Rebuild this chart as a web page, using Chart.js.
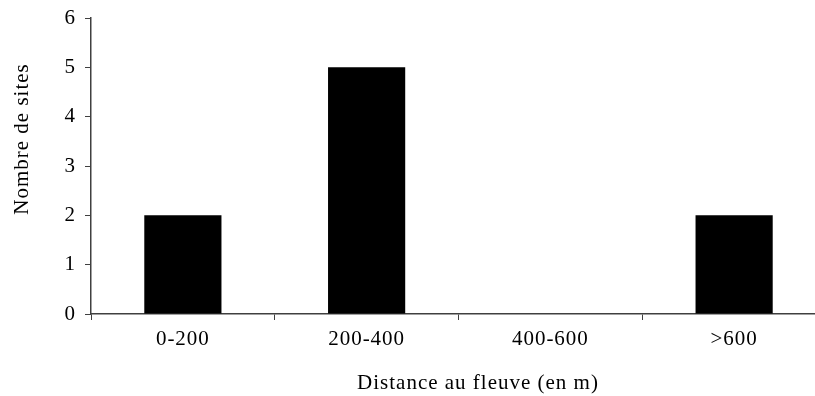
<!DOCTYPE html>
<html>
<head>
<meta charset="utf-8">
<script src="https://cdn.jsdelivr.net/npm/chart.js@4"></script>
<style>
  html, body { margin: 0; padding: 0; background: #fff; overflow: hidden; }
  #wrap { width: 815px; height: 396px; overflow: hidden; }
  #box { width: 840px; height: 396px; }
</style>
</head>
<body>
<div id="wrap"><div id="box"><canvas id="chart"></canvas></div></div>
<script>
const categories = ['0-200', '200-400', '400-600', '>600'];
const siteCounts = [2, 5, 0, 2];
const yTicks = [0, 1, 2, 3, 4, 5, 6];
const xTitle = 'Distance au fleuve (en m)';
const yTitle = 'Nombre de sites';

const fontFamily = "'Liberation Serif', 'Times New Roman', serif";
const font = { family: fontFamily, size: 21 };
const axisColor = '#404040';

// the original text is a little wider than Liberation Serif, so space the letters out
const spacing = {
    id: 'spacing',
    beforeDraw(chart) { chart.ctx.letterSpacing = '1px'; }
};

// axis titles, placed where the original has them
const titles = {
    id: 'titles',
    afterDraw(chart) {
        const c = chart.ctx;
        c.save();
        c.letterSpacing = '1px';
        c.fillStyle = '#000';
        c.font = `${font.size}px ${fontFamily}`;
        c.textAlign = 'center';
        c.textBaseline = 'alphabetic';
        c.fillText(xTitle, 478, 389);
        c.translate(22, 139);
        c.rotate(-Math.PI / 2);
        c.textBaseline = 'middle';
        c.fillText(yTitle, 0, 0);
        c.restore();
    }
};

const ctx = document.getElementById('chart').getContext('2d');
new Chart(ctx, {
    type: 'bar',
    data: {
        labels: categories,
        datasets: [{
            data: siteCounts,
            backgroundColor: '#000',
            borderWidth: 0,
            categoryPercentage: 1,
            barPercentage: 0.42
        }]
    },
    options: {
        responsive: true,
        maintainAspectRatio: false,
        animation: false,
        layout: { padding: { top: 18, right: 14, left: 0, bottom: 0 } },
        plugins: { legend: { display: false }, tooltip: { enabled: false } },
        scales: {
            x: {
                grid: { drawOnChartArea: false, tickLength: 6, color: axisColor, offset: true },
                border: { color: axisColor, width: 1.5 },
                ticks: { color: '#000', font, padding: 7, maxRotation: 0, autoSkip: false },
                afterFit: (scale) => { scale.height = 82; }
            },
            y: {
                min: 0,
                max: 6,
                afterBuildTicks: (scale) => { scale.ticks = yTicks.map(v => ({ value: v })); },
                grid: { drawOnChartArea: false, tickLength: 6, color: axisColor },
                border: { color: axisColor, width: 1.5 },
                ticks: { color: '#000', font, padding: 9 },
                afterFit: (scale) => {
                    scale.width = 91;
                    scale.paddingTop = 0;
                    scale.paddingBottom = 0;
                }
            }
        }
    },
    plugins: [spacing, titles]
});
</script>
</body>
</html>
